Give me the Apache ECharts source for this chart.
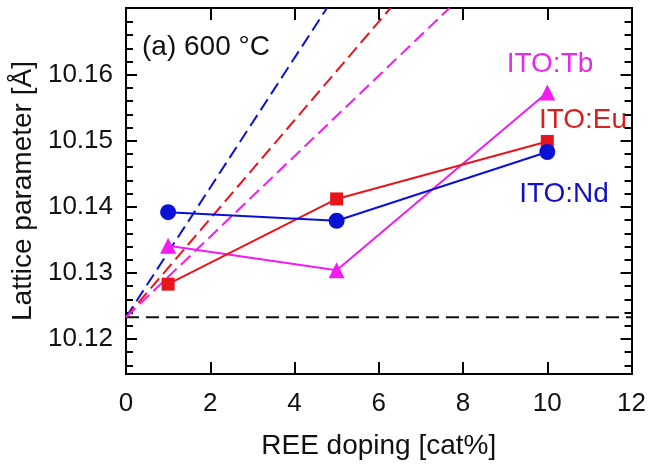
<!DOCTYPE html>
<html>
<head>
<meta charset="utf-8">
<script src="https://cdn.jsdelivr.net/npm/echarts@6/dist/echarts.min.js"></script>
<style>
  html, body {margin: 0; padding: 0; background: #fff;}
  #chart {width: 649px; height: 465px;}
</style>
</head>
<body>
<div id="chart"></div>
<script>
// REE doping (cat%)
let doping = [1, 5, 10];
// lattice parameter (Å)
let ndValues = [10.1392, 10.1379, 10.1483];
let euValues = [10.1283, 10.1412, 10.1499];
let tbValues = [10.1341, 10.1304, 10.1573];
// undoped ITO reference and Vegard-type lines (start, end at top of plot)
let itoRef = 10.1233;
let vegardNd = [[0, 10.1233], [4.77, 10.1701]];
let vegardEu = [[0, 10.1233], [6.28, 10.1701]];
let vegardTb = [[0, 10.1233], [7.68, 10.1701]];
// tick values
let xTicks = [0, 2, 4, 6, 8, 10, 12];
let yMajor = [10.12, 10.13, 10.14, 10.15, 10.16];
let yMinor = [10.116, 10.118, 10.122, 10.124, 10.126, 10.128, 10.132, 10.134, 10.136, 10.138,
    10.142, 10.144, 10.146, 10.148, 10.152, 10.154, 10.156, 10.158, 10.162, 10.164, 10.166, 10.168];

let font = '"Liberation Sans", Arial, sans-serif';
let blue = '#0a10d6';
let red = '#e8141c';
let magenta = '#f21cf2';

let chart = echarts.init(document.getElementById('chart'));

function pts(ys) {
    return doping.map(function (x, i) { return [x, ys[i]]; });
}

let yMin = 10.1147, yMax = 10.1701;

let yBase = {
    type: 'value', min: yMin, max: yMax,
    splitLine: {show: false},
    axisLine: {show: true, onZero: false, lineStyle: {color: '#000', width: 2}}
};

let option = {
    animation: false,
    backgroundColor: '#fff',
    grid: {left: 126, right: 15, top: 8, bottom: 89},
    title: {
        text: '(a) 600 °C', left: 137, top: 28,
        textStyle: {fontFamily: font, fontSize: 28, fontWeight: 'normal', color: '#111'}
    },
    xAxis: [{
        type: 'value', min: 0, max: 12, interval: 2,
        name: 'REE doping [cat%]', nameLocation: 'middle', nameGap: 58,
        nameTextStyle: {fontFamily: font, fontSize: 28, color: '#111'},
        splitLine: {show: false},
        axisLine: {onZero: false, lineStyle: {color: '#000', width: 2}},
        axisTick: {inside: true, length: 12, lineStyle: {color: '#000', width: 2}},
        axisLabel: {fontFamily: font, fontSize: 26, color: '#111', margin: 17}
    }, {
        type: 'value', min: 0, max: 12, interval: 2, position: 'top',
        splitLine: {show: false},
        axisLine: {onZero: false, lineStyle: {color: '#000', width: 2}},
        axisTick: {inside: true, length: 12, lineStyle: {color: '#000', width: 2}},
        axisLabel: {show: false}
    }],
    yAxis: [
        Object.assign({}, yBase, {
            position: 'left',
            name: 'Lattice parameter [Å]', nameLocation: 'middle', nameGap: 86,
            nameTextStyle: {fontFamily: font, fontSize: 28, color: '#111'},
            axisTick: {inside: true, length: 11, customValues: yMajor, lineStyle: {color: '#000', width: 2}},
            axisLabel: {fontFamily: font, fontSize: 26, color: '#111', margin: 13, customValues: yMajor,
                formatter: function (v) { return v.toFixed(2); }}
        }),
        Object.assign({}, yBase, {
            position: 'left',
            axisTick: {inside: true, length: 7, customValues: yMinor, lineStyle: {color: '#000', width: 2}},
            axisLabel: {show: false}
        }),
        Object.assign({}, yBase, {
            position: 'right',
            axisTick: {inside: true, length: 11, customValues: yMajor, lineStyle: {color: '#000', width: 2}},
            axisLabel: {show: false}
        }),
        Object.assign({}, yBase, {
            position: 'right',
            axisTick: {inside: true, length: 7, customValues: yMinor, lineStyle: {color: '#000', width: 2}},
            axisLabel: {show: false}
        })
    ],
    series: [
        {
            type: 'line', data: [[0, itoRef], [12, itoRef]], symbol: 'none', silent: true,
            lineStyle: {color: '#111', width: 2, type: [13, 7]}
        },
        {
            type: 'line', data: vegardNd, symbol: 'none', clip: true,
            lineStyle: {color: blue, width: 2, type: [13, 6]}
        },
        {
            type: 'line', data: vegardEu, symbol: 'none', clip: true,
            lineStyle: {color: red, width: 2, type: [13, 6]}
        },
        {
            type: 'line', data: vegardTb, symbol: 'none', clip: true,
            lineStyle: {color: magenta, width: 2, type: [13, 6]}
        },
        {
            name: 'ITO:Tb', type: 'line', data: pts(tbValues),
            symbol: 'triangle', symbolSize: 16,
            lineStyle: {color: magenta, width: 2}, itemStyle: {color: magenta}
        },
        {
            name: 'ITO:Eu', type: 'line', data: pts(euValues),
            symbol: 'rect', symbolSize: 13,
            lineStyle: {color: red, width: 2}, itemStyle: {color: red}
        },
        {
            name: 'ITO:Nd', type: 'line', data: pts(ndValues),
            symbol: 'circle', symbolSize: 16,
            lineStyle: {color: blue, width: 2}, itemStyle: {color: blue}
        }
    ],
    graphic: [
        {type: 'text', x: 550, y: 64, style: {text: 'ITO:Tb', fill: '#e82ae8', font: '28px ' + font, align: 'center', verticalAlign: 'middle'}},
        {type: 'text', x: 583, y: 120, style: {text: 'ITO:Eu', fill: '#d8201e', font: '28px ' + font, align: 'center', verticalAlign: 'middle'}},
        {type: 'text', x: 564, y: 194, style: {text: 'ITO:Nd', fill: '#1212c4', font: '28px ' + font, align: 'center', verticalAlign: 'middle'}}
    ]
};

chart.setOption(option);
</script>
</body>
</html>
